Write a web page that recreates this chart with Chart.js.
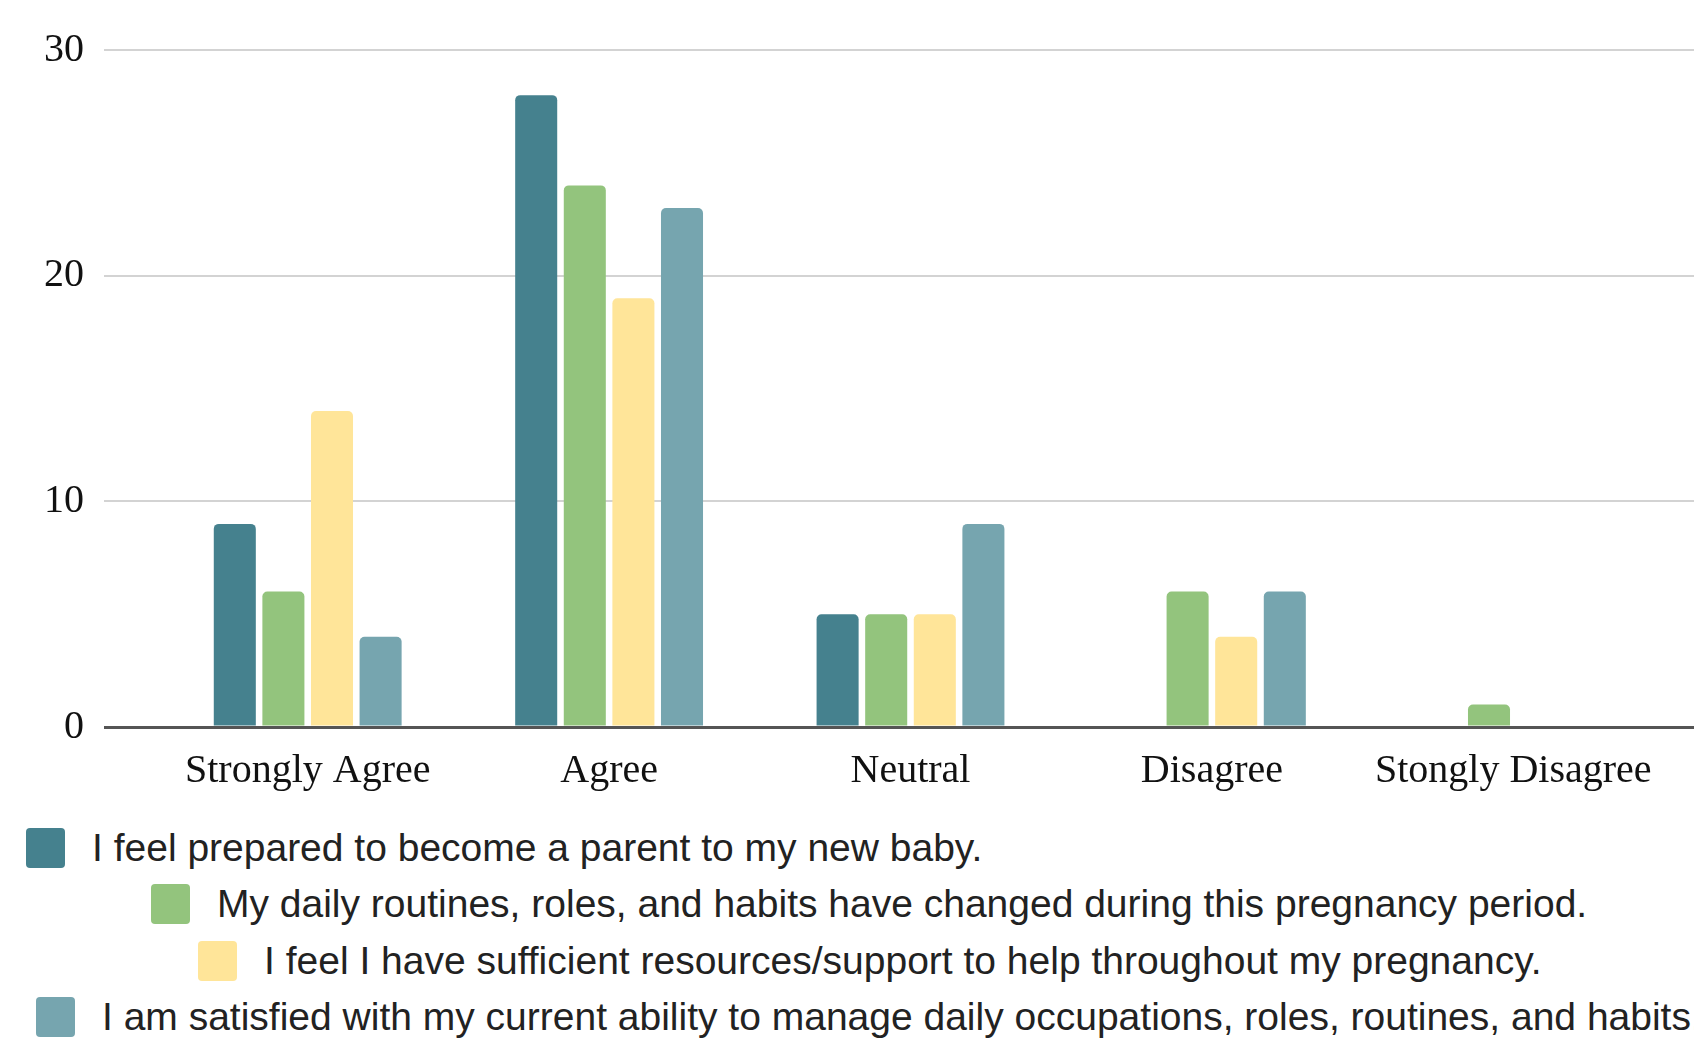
<!DOCTYPE html>
<html>
<head>
<meta charset="utf-8">
<script src="https://cdn.jsdelivr.net/npm/chart.js@4"></script>
<style>
    html, body { margin: 0; padding: 0; background: #fff; overflow: hidden; }
    body { width: 1694px; height: 1038px; position: relative; }
    #wrap { position: absolute; left: 0; top: 0; width: 1694px; height: 815px; }
    .row { position: absolute; height: 40px; display: flex; align-items: center; white-space: nowrap;
           font-family: "Liberation Sans", Arial, sans-serif; font-size: 39px; color: #222; }
    .box { width: 39px; height: 40px; border-radius: 4px; margin-right: 27px; flex: none; }
</style>
</head>
<body>
<div id="wrap"><canvas id="chart"></canvas></div>
<div id="legend"></div>
<script>
// answers (x axis)
const categories = ["Strongly Agree", "Agree", "Neutral", "Disagree", "Stongly Disagree"];
// one array per survey statement
const prepared = [9, 28, 5, 0, 0];
const routinesChanged = [6, 24, 5, 6, 1];
const sufficientSupport = [14, 19, 5, 4, 0];
const satisfiedAbility = [4, 23, 9, 6, 0];
const seriesLabels = [
    "I feel prepared to become a parent to my new baby.",
    "My daily routines, roles, and habits have changed during this pregnancy period.",
    "I feel I have sufficient resources/support to help throughout my pregnancy.",
    "I am satisfied with my current ability to manage daily occupations, roles, routines, and habits."
];
const seriesColors = ["#45818e", "#93c47d", "#ffe599", "#76a5af"];
const yTicks = [0, 10, 20, 30];

document.addEventListener("DOMContentLoaded", function() {
    const values = [prepared, routinesChanged, sufficientSupport, satisfiedAbility];
    const gridColor = function(c) {
        return c.tick && c.tick.value === 0 ? "#555555" : "#d3d3d3";
    };
    const gridWidth = function(c) {
        return c.tick && c.tick.value === 0 ? 3 : 2;
    };
    const chart = new Chart(document.getElementById("chart").getContext("2d"), {
        type: "bar",
        data: {
            labels: categories,
            datasets: values.map(function(v, i) {
                return {
                    label: seriesLabels[i],
                    data: v,
                    backgroundColor: seriesColors[i],
                    borderRadius: 5,
                    categoryPercentage: 0.645,
                    barPercentage: 0.865
                };
            })
        },
        options: {
            responsive: true,
            maintainAspectRatio: false,
            animation: false,
            layout: { padding: { top: 50, left: 24, right: 0, bottom: 8 } },
            plugins: { legend: { display: false }, tooltip: { enabled: false } },
            scales: {
                x: {
                    grid: { display: false },
                    border: { display: false },
                    ticks: {
                        padding: 12,
                        autoSkip: false,
                        maxRotation: 0,
                        color: "#111",
                        font: { family: "'Liberation Serif', 'Times New Roman', serif", size: 40 }
                    }
                },
                y: {
                    min: yTicks[0],
                    max: yTicks[yTicks.length - 1],
                    afterBuildTicks: function(axis) { axis.ticks = yTicks.map(function(v) { return { value: v }; }); },
                    grid: { color: gridColor, lineWidth: gridWidth, tickLength: 53 },
                    border: { display: false },
                    ticks: {
                        padding: 20,
                        color: "#111",
                        font: { family: "'Liberation Serif', 'Times New Roman', serif", size: 40 }
                    }
                },
                // only there to carry the grid lines out to the right edge
                yr: {
                    position: "right",
                    min: yTicks[0],
                    max: yTicks[yTicks.length - 1],
                    afterBuildTicks: function(axis) { axis.ticks = yTicks.map(function(v) { return { value: v }; }); },
                    grid: { color: gridColor, lineWidth: gridWidth, tickLength: 30, drawOnChartArea: false },
                    border: { display: false },
                    ticks: { display: false }
                }
            }
        }
    });

    // legend rows, each with its own indent like the original
    const legend = document.getElementById("legend");
    const rowLeft = [26, 151, 198, 36];
    const rowTop = [828, 884, 941, 997];
    seriesLabels.forEach(function(text, i) {
        const row = document.createElement("div");
        row.className = "row";
        row.style.left = rowLeft[i] + "px";
        row.style.top = rowTop[i] + "px";
        const box = document.createElement("span");
        box.className = "box";
        box.style.background = seriesColors[i];
        const label = document.createElement("span");
        label.innerText = text;
        row.appendChild(box);
        row.appendChild(label);
        legend.appendChild(row);
    });
});
</script>
</body>
</html>
